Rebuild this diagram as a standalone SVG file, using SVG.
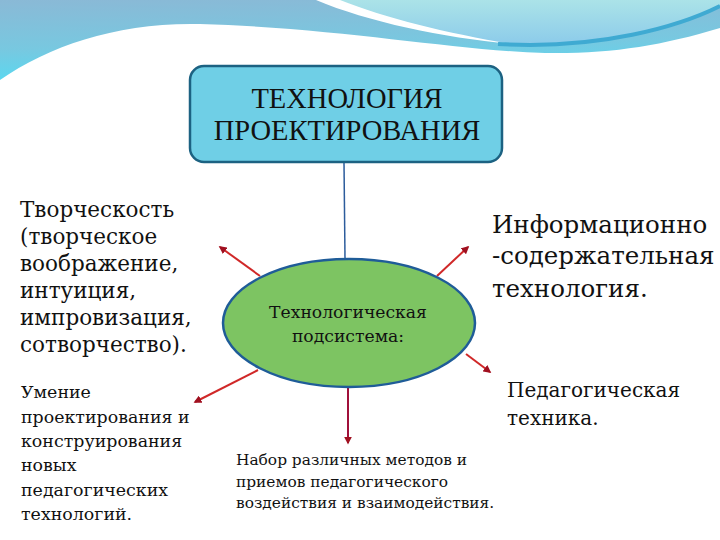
<svg xmlns="http://www.w3.org/2000/svg" width="720" height="540" viewBox="0 0 720 540">
<defs>
<linearGradient id="gBlue" x1="0" y1="0" x2="0.15" y2="1">
<stop offset="0" stop-color="#8AB9D6"/>
<stop offset="0.6" stop-color="#78C8E0"/>
<stop offset="1" stop-color="#5AD8F0"/>
</linearGradient>
<linearGradient id="gLight" x1="0" y1="0" x2="0" y2="1">
<stop offset="0" stop-color="#ABE3E8"/>
<stop offset="1" stop-color="#8CCBEA"/>
</linearGradient>
<marker id="ah" viewBox="0 0 10 10" refX="8" refY="5" markerWidth="4" markerHeight="4" orient="auto" markerUnits="strokeWidth">
<path d="M0,0 L10,5 L0,10 Z" fill="#A01020"/>
</marker>
</defs>
<style>
.t{font-family:"DejaVu Serif","Liberation Serif",serif;fill:#111}
.title{font-family:"Liberation Serif","DejaVu Serif",serif;font-size:28.5px;fill:#111}
.red{stroke:#D02828;stroke-width:2;fill:none}
</style>
<rect width="720" height="540" fill="#FFFFFF"/>
<g id="background">
<path d="M0,0 H720 V28 C660,46 610,54 545,53 C450,50 340,28 200,24 C120,22 50,45 0,80 Z" fill="url(#gBlue)"/>
<path d="M320,0 C370,20 450,38 510,43 C600,50 680,25 720,5 V0 Z" fill="url(#gLight)"/>
<path d="M316,0 C368,22 445,38 512,44 C450,34 385,18 340,0 Z" fill="#FFFFFF"/>
<path d="M498,44 C600,50 680,26 720,6" stroke="#3FAAD2" stroke-width="4" fill="none"/>
</g>
<g id="connectors">
<line x1="344" y1="162" x2="345" y2="259" stroke="#2C5C9C" stroke-width="1.5"/>
<line class="red" x1="260" y1="276" x2="220" y2="247" marker-end="url(#ah)"/>
<line class="red" x1="437" y1="276" x2="468" y2="247" marker-end="url(#ah)"/>
<line class="red" x1="466" y1="354" x2="490" y2="372" marker-end="url(#ah)"/>
<line class="red" x1="258" y1="370" x2="195" y2="402" marker-end="url(#ah)"/>
<line x1="348" y1="388" x2="348" y2="443" stroke="#A0103A" stroke-width="2" marker-end="url(#ah)"/>
</g>
<g id="node-title">
<rect x="190" y="66" width="312" height="96" rx="14" fill="#6FCFE6" stroke="#1C6282" stroke-width="2.5"/>
<text class="title" x="347" y="108" text-anchor="middle">ТЕХНОЛОГИЯ</text>
<text class="title" x="347" y="140" text-anchor="middle">ПРОЕКТИРОВАНИЯ</text>
</g>
<g id="node-subsystem">
<ellipse cx="349" cy="323" rx="126" ry="64" fill="#7DC462" stroke="#1F5C98" stroke-width="2.5"/>
<text class="t" x="348" y="318" text-anchor="middle" font-size="17.2">Технологическая</text>
<text class="t" x="348" y="342" text-anchor="middle" font-size="17.2">подсистема:</text>
</g>
<g id="node-creativity">
<text class="t" font-size="21.5"><tspan x="20" y="217">Творческость</tspan><tspan x="20" y="244">(творческое</tspan><tspan x="20" y="271">воображение,</tspan><tspan x="20" y="298">интуиция,</tspan><tspan x="20" y="325">импровизация,</tspan><tspan x="20" y="352">сотворчество).</tspan></text>
</g>
<g id="node-skill">
<text class="t" font-size="17.4"><tspan x="21" y="398">Умение</tspan><tspan x="21" y="423">проектирования и</tspan><tspan x="21" y="447">конструирования</tspan><tspan x="21" y="471">новых</tspan><tspan x="21" y="496">педагогических</tspan><tspan x="21" y="520">технологий.</tspan></text>
</g>
<g id="node-info">
<text class="t" font-size="24.5"><tspan x="492" y="233">Информационно</tspan><tspan x="492" y="264">-содержательная</tspan><tspan x="492" y="297">технология.</tspan></text>
</g>
<g id="node-technique">
<text class="t" font-size="20"><tspan x="507" y="397">Педагогическая</tspan><tspan x="507" y="425">техника.</tspan></text>
</g>
<g id="node-methods">
<text class="t" font-size="15.4"><tspan x="236" y="465">Набор различных методов и</tspan><tspan x="236" y="487">приемов педагогического</tspan><tspan x="236" y="508">воздействия и взаимодействия.</tspan></text>
</g>
</svg>
